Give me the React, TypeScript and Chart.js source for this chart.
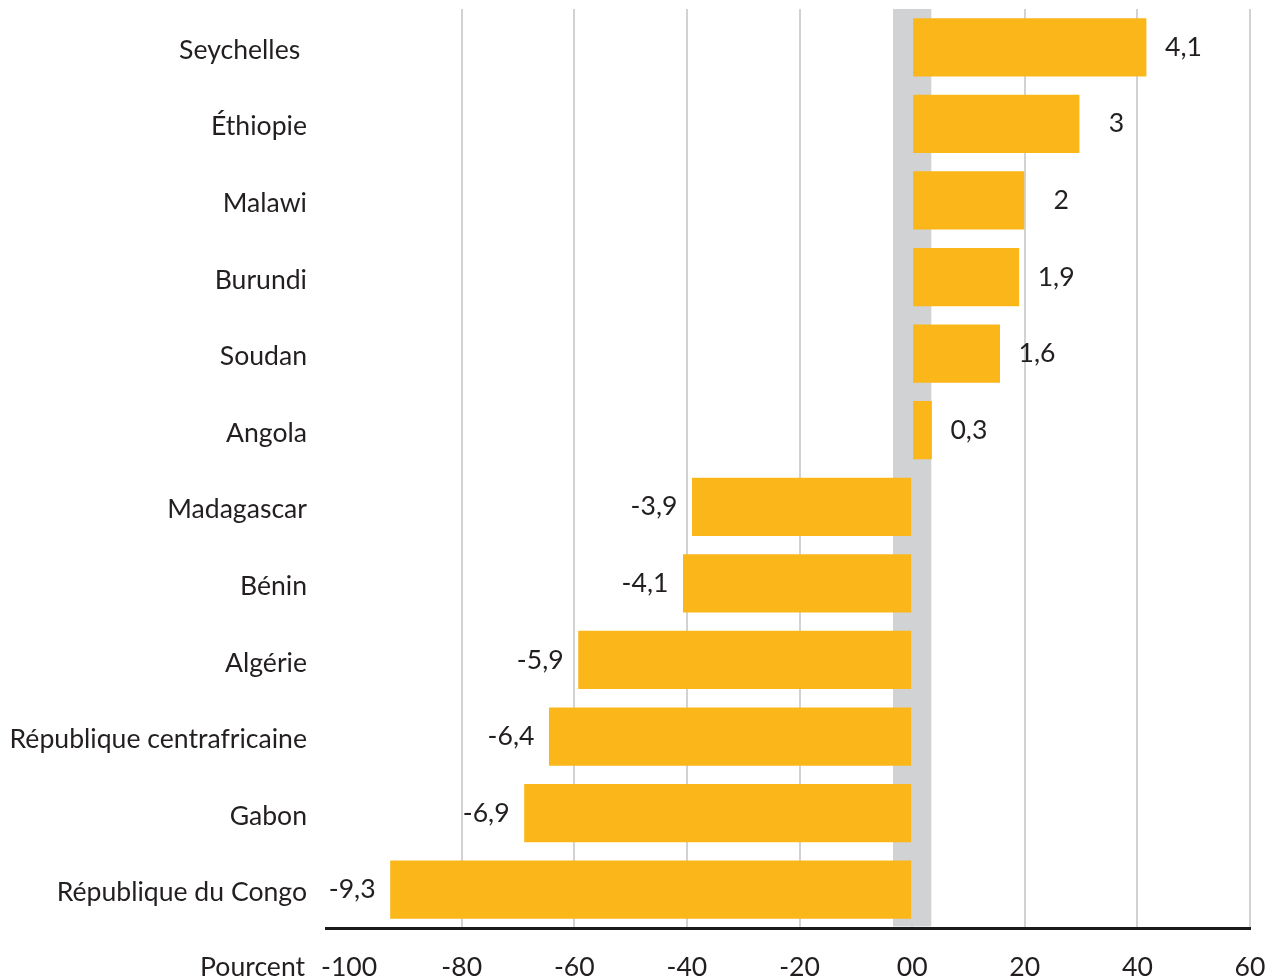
import React, { useEffect, useRef } from "react";
import { Chart, registerables } from "chart.js";

Chart.register(...registerables);

const categories = [
  "Seychelles ",
  "Éthiopie",
  "Malawi",
  "Burundi",
  "Soudan",
  "Angola",
  "Madagascar",
  "Bénin",
  "Algérie",
  "République centrafricaine",
  "Gabon",
  "République du Congo",
];
const barValues = [41.6, 29.7, 19.9, 19.0, 15.6, 3.5, -39.1, -40.7, -59.3, -64.5, -68.9, -92.7];
const valueLabels = ["4,1", "3", "2", "1,9", "1,6", "0,3", "-3,9", "-4,1", "-5,9", "-6,4", "-6,9", "-9,3"];
const xTicks = [-100, -80, -60, -40, -20, 0, 20, 40, 60];
const zeroBand = [-3.4, 3.4];
const axisUnit = "Pourcent";

const FONT = "Lato, 'Noto Sans', sans-serif";
const FSIZE = 26.6;
const TEXT = "#231f20";
const BAR = "#fbb61a";
const BAND = "#d1d2d4";
const GRID = "#d2d2d2";

const bandPlugin = {
  id: "zeroBand",
  beforeDatasetsDraw(chart: any) {
    const { ctx, chartArea } = chart;
    const x = chart.scales.x;
    const x0 = x.getPixelForValue(zeroBand[0]);
    const x1 = x.getPixelForValue(zeroBand[1]);
    ctx.save();
    ctx.fillStyle = BAND;
    ctx.fillRect(x0, chartArea.top, x1 - x0, chartArea.bottom - chartArea.top - 1.5);
    ctx.restore();
  },
};

const labelPlugin = {
  id: "valueLabels",
  afterDatasetsDraw(chart: any) {
    const { ctx } = chart;
    const meta = chart.getDatasetMeta(0);
    ctx.save();
    ctx.font = `${FSIZE}px ${FONT}`;
    ctx.fillStyle = TEXT;
    ctx.textAlign = "center";
    ctx.textBaseline = "middle";
    meta.data.forEach((el: any, i: number) => {
      const v = barValues[i];
      const xx = v >= 0 ? el.x + 37 : el.x - 38;
      ctx.fillText(valueLabels[i], xx, el.y);
    });
    const xs = chart.scales.x;
    ctx.textAlign = "right";
    ctx.fillText(axisUnit, xs.getPixelForValue(-100) - 44, xs.top + 39);
    ctx.restore();
  },
};

export default function App() {
  const ref = useRef<HTMLCanvasElement | null>(null);
  useEffect(() => {
    if (!ref.current) return;
    const chart = new Chart(ref.current, {
      type: "bar",
      data: {
        labels: categories,
        datasets: [
          {
            data: barValues,
            backgroundColor: BAR,
            borderWidth: 0,
            categoryPercentage: 1,
            barPercentage: 0.76,
          },
        ],
      },
      options: {
        indexAxis: "y",
        animation: false,
        responsive: true,
        maintainAspectRatio: false,
        layout: { padding: { top: 9, right: 24, left: 0, bottom: 0 } },
        plugins: {
          legend: { display: false },
          tooltip: { enabled: false },
          title: { display: false },
        },
        scales: {
          x: {
            min: -104.1,
            max: 60,
            afterBuildTicks: (scale: any) => {
              scale.ticks = xTicks.map((v) => ({ value: v }));
            },
            afterFit: (scale: any) => {
              scale.height = 50;
              scale.paddingLeft = 0;
              scale.paddingRight = 0;
            },
            grid: {
              drawTicks: false,
              lineWidth: 2,
              color: (c: any) => (c.tick && c.tick.value === -100 ? "rgba(0,0,0,0)" : GRID),
            },
            border: { display: true, color: "#1a1a1a", width: 3 },
            ticks: {
              padding: 23,
              color: TEXT,
              font: { family: FONT, size: FSIZE },
              callback: (v: any) => (Number(v) === 0 ? "00" : String(v)),
              maxRotation: 0,
            },
          },
          y: {
            afterFit: (scale: any) => {
              scale.width = 326;
              scale.paddingTop = 0;
              scale.paddingBottom = 0;
            },
            grid: { display: false, drawTicks: false },
            border: { display: false },
            ticks: {
              padding: 19,
              labelOffset: 3,
              color: TEXT,
              font: { family: FONT, size: FSIZE },
            },
          },
        },
      },
      plugins: [bandPlugin, labelPlugin],
    });
    return () => chart.destroy();
  }, []);

  return (
    <div style={{ position: "absolute", left: 0, top: 0, width: 1274, height: 978, background: "#fff" }}>
      <canvas ref={ref} />
    </div>
  );
}
